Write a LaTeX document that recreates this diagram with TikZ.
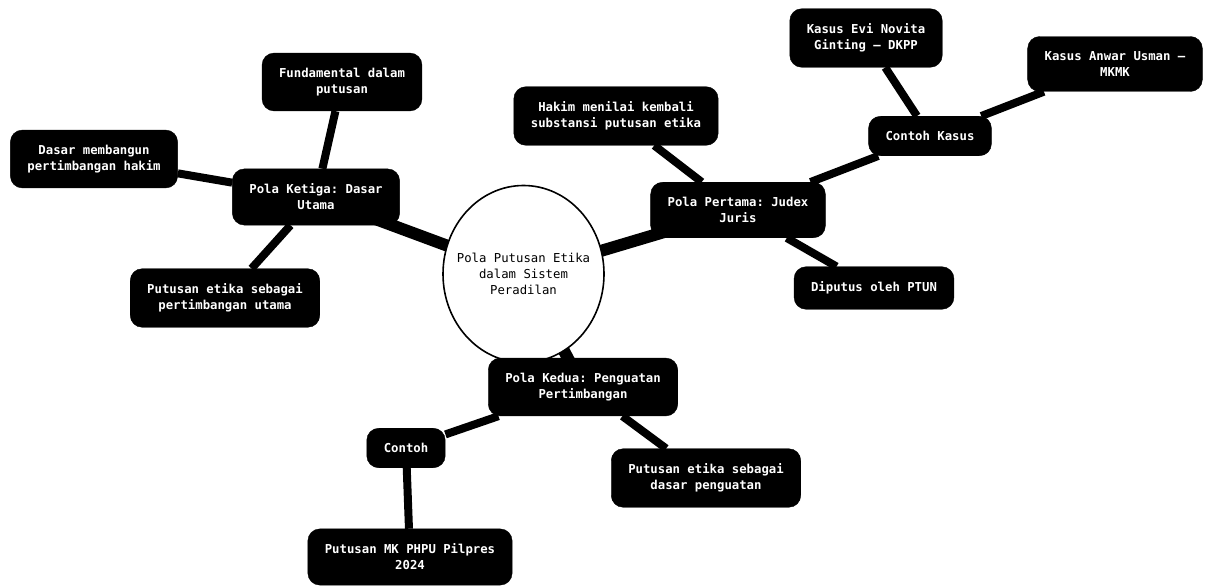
\documentclass[tikz,border=0pt]{standalone}
\usepackage{fontspec}
\setmonofont{DejaVu Sans Mono}
\usetikzlibrary{shapes.geometric,backgrounds}
\definecolor{BoxBlack}{RGB}{0,0,0}
\definecolor{InkWhite}{RGB}{255,255,255}
\tikzset{
	topic/.style={draw=BoxBlack,fill=BoxBlack,text=InkWhite,rounded corners=12pt,
		inner xsep=17pt,inner ysep=15pt,align=center,
		font=\ttfamily\bfseries\fontsize{12.3}{16}\selectfont},
	hub/.style={ellipse,draw=black,fill=white,line width=1.6pt,
		minimum width=161pt,minimum height=177pt,inner xsep=-10pt,inner ysep=0pt,align=center,
		font=\ttfamily\fontsize{12.3}{16}\selectfont},
	trunk/.style={draw=black,line width=12pt},
	twig/.style={draw=black,line width=8pt},
}
\begin{document}
\begin{tikzpicture}[x=1pt,y=-1pt]
	\useasboundingbox (0,0) rectangle (1210,588);
	\node[hub] (core) at (523.5,274) {Pola Putusan Etika\\dalam Sistem\\Peradilan};
	\node[topic] (ketiga) at (316,197) {Pola Ketiga: Dasar\\Utama};
	\node[topic] (fund) at (342,82) {Fundamental dalam\\putusan};
	\node[topic] (dasar) at (94,159) {Dasar membangun\\pertimbangan hakim};
	\node[topic] (utama) at (225,298) {Putusan etika sebagai\\pertimbangan utama};
	\node[topic] (pertama) at (738,210) {Pola Pertama: Judex\\Juris};
	\node[topic] (hakim) at (616,116) {Hakim menilai kembali\\substansi putusan etika};
	\node[topic] (kasus) at (930,136) {Contoh Kasus};
	\node[topic] (evi) at (866,38) {Kasus Evi Novita\\Ginting – DKPP};
	\node[topic] (anwar) at (1115,64) {Kasus Anwar Usman –\\MKMK};
	\node[topic] (ptun) at (874,288) {Diputus oleh PTUN};
	\node[topic] (kedua) at (583,387) {Pola Kedua: Penguatan\\Pertimbangan};
	\node[topic] (contoh) at (406,448) {Contoh};
	\node[topic] (kuat) at (706,478) {Putusan etika sebagai\\dasar penguatan};
	\node[topic] (pilpres) at (410,557) {Putusan MK PHPU Pilpres\\2024};
	\begin{scope}[on background layer]
		\draw[trunk] (core.center)--(ketiga.center);
		\draw[trunk] (core.center)--(pertama.center);
		\draw[trunk] (core.center)--(kedua.center);
		\draw[twig] (ketiga)--(fund);
		\draw[twig] (ketiga)--(dasar);
		\draw[twig] (ketiga)--(utama);
		\draw[twig] (pertama)--(hakim);
		\draw[twig] (pertama)--(kasus);
		\draw[twig] (pertama)--(ptun);
		\draw[twig] (kasus)--(evi);
		\draw[twig] (kasus)--(anwar);
		\draw[twig] (kedua)--(contoh);
		\draw[twig] (kedua)--(kuat);
		\draw[twig] (contoh)--(pilpres);
	\end{scope}
\end{tikzpicture}
\end{document}
